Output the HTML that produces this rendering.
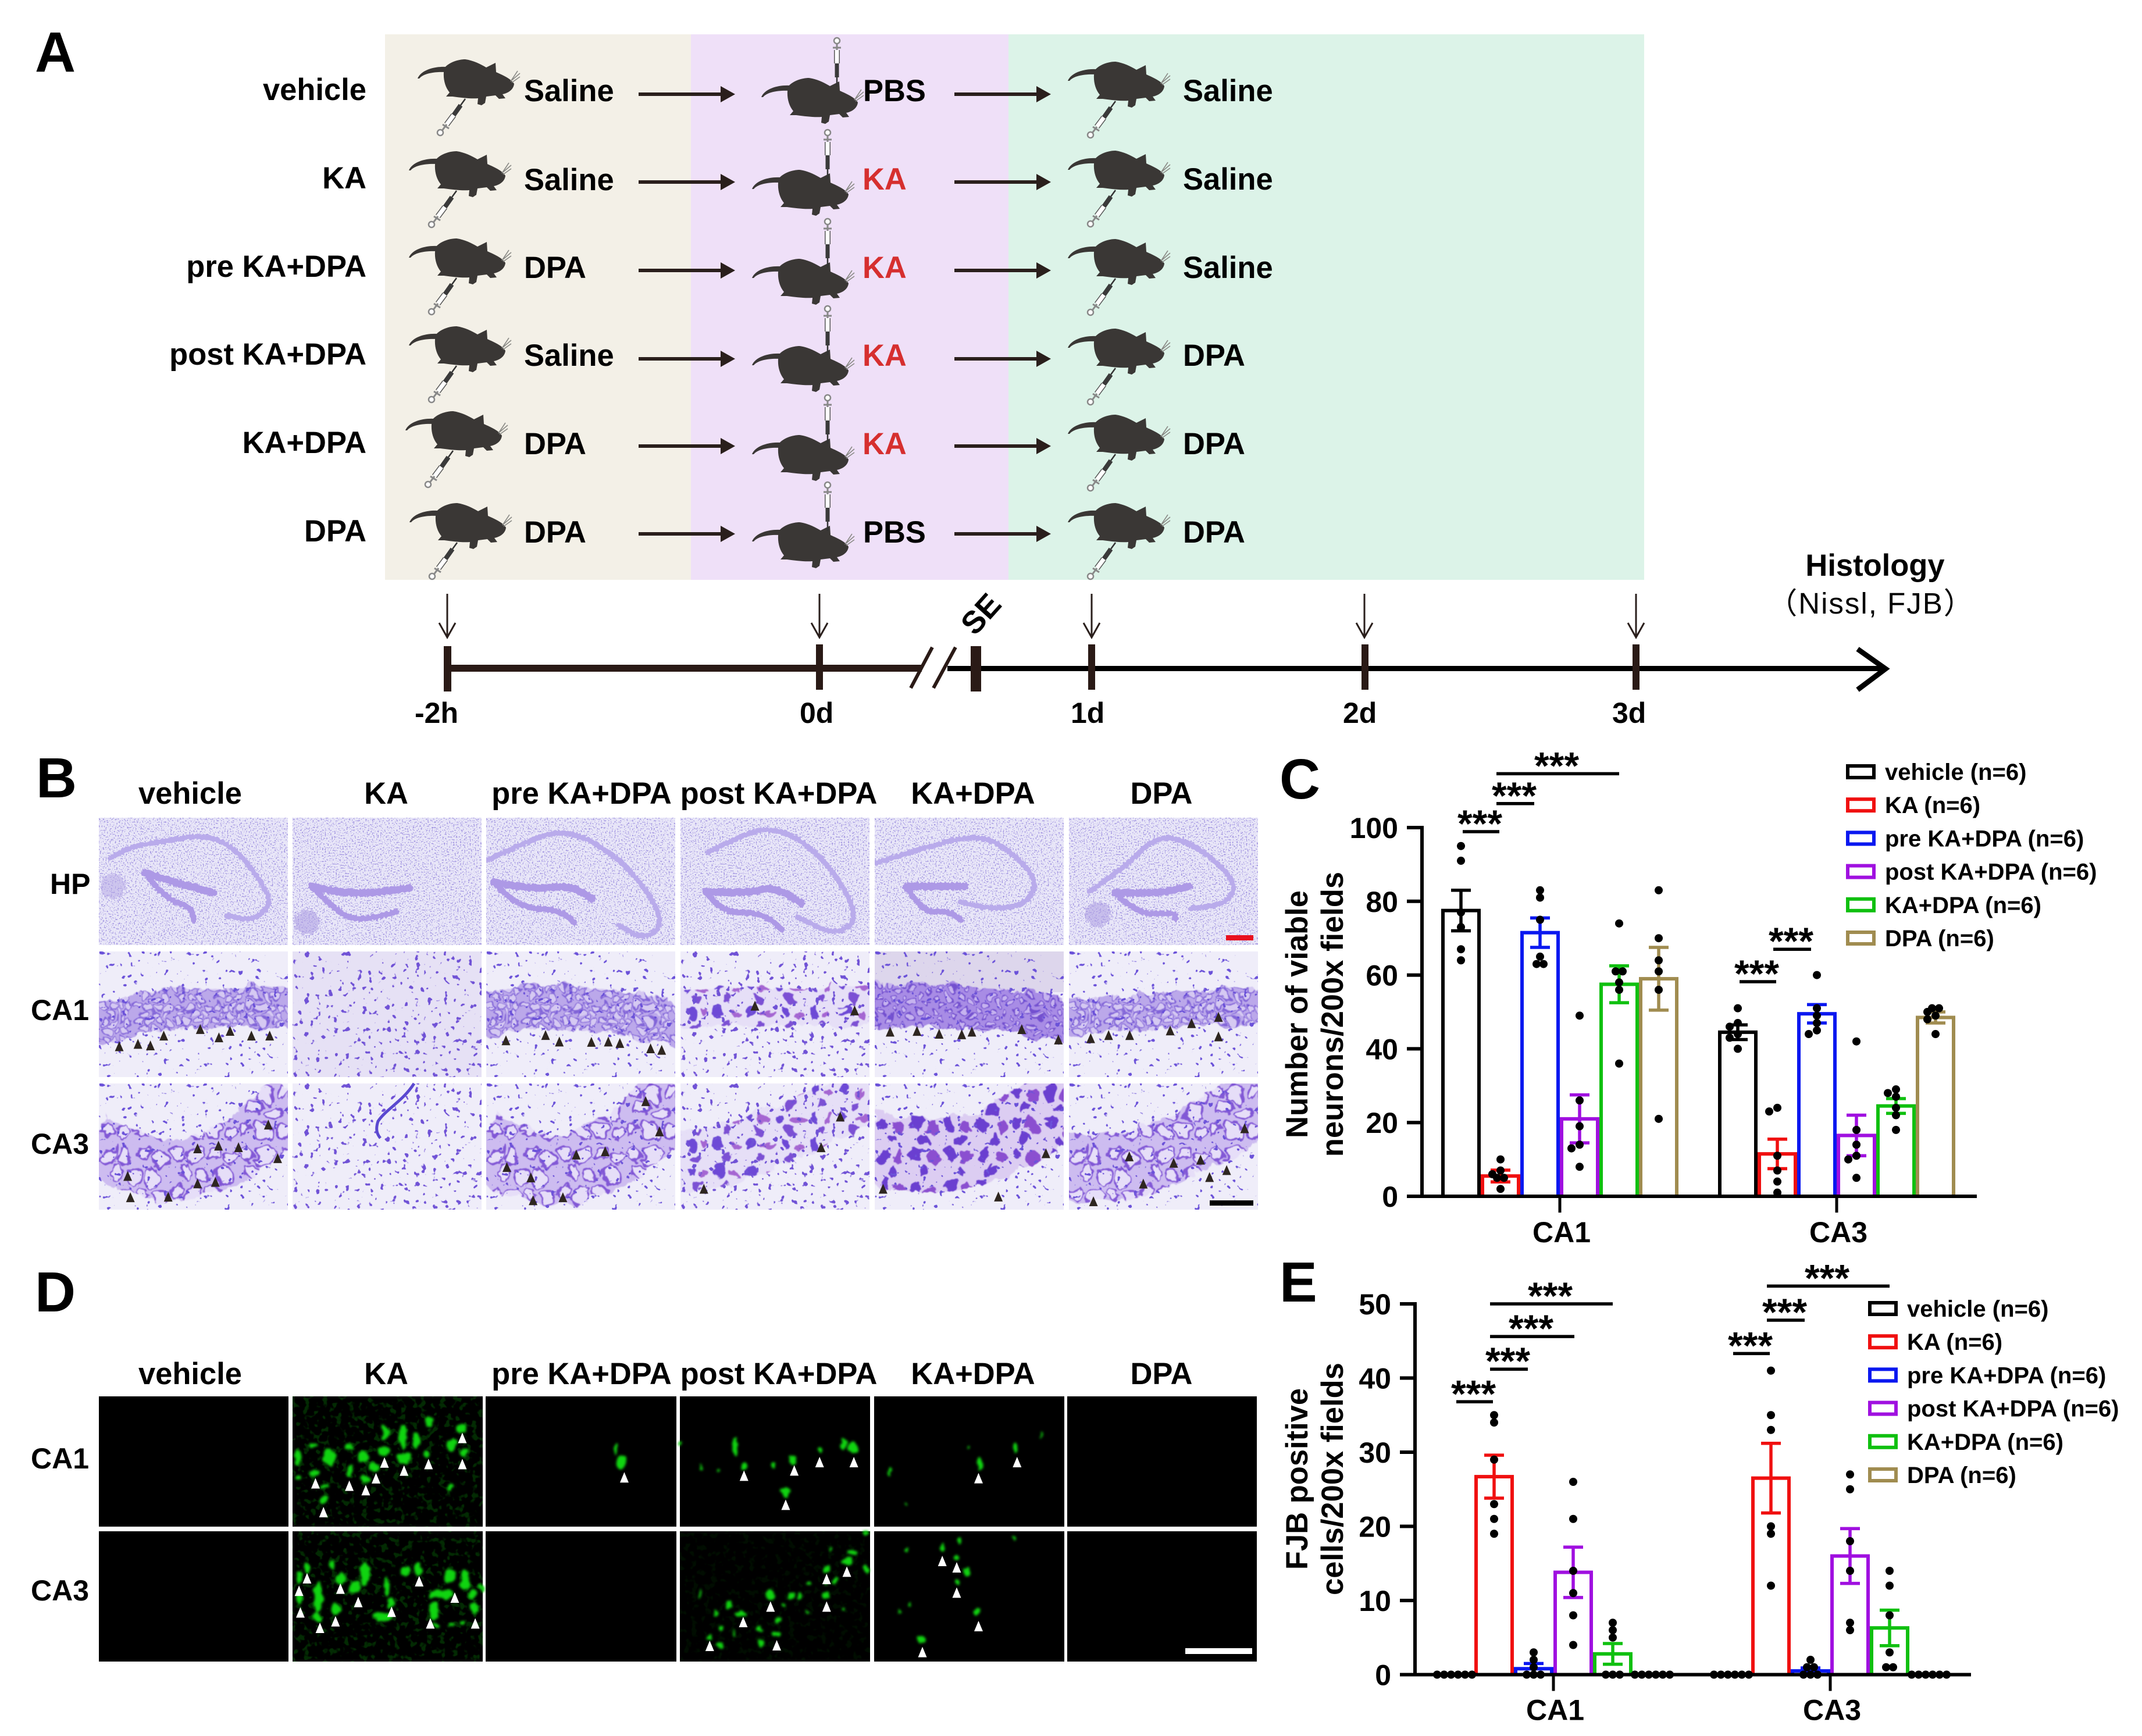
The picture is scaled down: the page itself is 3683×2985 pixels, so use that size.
<!DOCTYPE html>
<html lang="en">
<head>
<meta charset="utf-8">
<title>KA and DPA experimental design, histology and quantification</title>
<style>
html,body{margin:0;padding:0;background:#fff;width:3683px;height:2985px;overflow:hidden}
svg#fig{display:block}
text{font-family:"Liberation Sans","Noto Sans CJK SC",sans-serif;fill:#000}
.b52{font-size:52.5px;font-weight:bold}
.b50{font-size:50px;font-weight:bold}
.let{font-size:97px;font-weight:bold}
.ka{fill:#d62f2f}
</style>
</head>
<body>
<svg id="fig" width="3683" height="2985" viewBox="0 0 3683 2985">
<defs>
  <g id="mouse-body">
    <path fill="#3a3735" d="M46,15 C54,5 70,0 82,0 C96,2 108,8 118,14 L134,6 L135,22 C148,28 160,33 166,42 C165,52 156,58 146,60 L151,67 L140,68 L134,62 L118,64 L116,75 L110,79 L103,77 L104,67 C90,68 76,66 60,64 L49,64 L55,57 C46,46 43,30 46,15 Z"/>
    <path fill="#3a3735" d="M48,13 C30,12 6,18 0,33 L3,33 C10,24 30,21 48,22 Z"/>
    <path fill="none" stroke="#8a8a86" stroke-width="1.6" d="M160,38 L172,20 M162,36 L176,24 M162,40 L176,30"/>
  </g>
  <g id="mouse-side">
    <use href="#mouse-body"/>
    <path fill="none" stroke="#333" stroke-width="2.5" d="M82,68 L74,79"/>
    <path fill="none" stroke="#3a3a3a" stroke-width="8" d="M74,79 L62,96"/>
    <path fill="none" stroke="#555" stroke-width="10" d="M62,96 L50,112"/>
    <path fill="none" stroke="#fff" stroke-width="7" d="M62,96 L50,112"/>
    <path fill="none" stroke="#888" stroke-width="3" d="M50,112 L41,124 M43,112 L54,119"/>
    <circle cx="39" cy="126" r="5" fill="#fff" stroke="#888" stroke-width="2.5"/>
  </g>
  <g id="mouse-injected">
    <use href="#mouse-body"/>
    <path fill="none" stroke="#333" stroke-width="2.5" d="M130,-1 V15"/>
    <path fill="none" stroke="#3a3a3a" stroke-width="7" d="M130,-25 V-1"/>
    <path fill="none" stroke="#555" stroke-width="10" d="M130,-48 V-25"/>
    <path fill="none" stroke="#fff" stroke-width="7" d="M130,-48 V-25"/>
    <path fill="none" stroke="#888" stroke-width="3" d="M130,-60 V-48 M123,-52 H137"/>
    <circle cx="130" cy="-64" r="5" fill="#fff" stroke="#888" stroke-width="2.5"/>
  </g>
  <g id="flow-arrow">
    <rect x="0" y="-3" width="142" height="6" fill="#2a1f1c"/>
    <polygon points="141,-14 166,0 141,14" fill="#2a1f1c"/>
  </g>
  <path id="time-arrow" fill="none" stroke="#2a1f1c" stroke-width="3" d="M0,0 V75 M-14,50 L0,75 L14,50"/>

  <filter id="speck1" x="0" y="0" width="100%" height="100%" color-interpolation-filters="sRGB"><feTurbulence type="fractalNoise" baseFrequency="0.43" numOctaves="2" seed="3"/><feColorMatrix type="matrix" values="0 0 0 0 .63  0 0 0 0 .58  0 0 0 0 .88  7 0 0 0 -3.9"/></filter>
  <filter id="speck2" x="0" y="0" width="100%" height="100%" color-interpolation-filters="sRGB"><feTurbulence type="fractalNoise" baseFrequency="0.43" numOctaves="2" seed="11"/><feColorMatrix type="matrix" values="0 0 0 0 .63  0 0 0 0 .58  0 0 0 0 .88  7 0 0 0 -3.9"/></filter>
  <filter id="cells1" x="0" y="0" width="100%" height="100%" color-interpolation-filters="sRGB"><feTurbulence type="fractalNoise" baseFrequency="0.1" numOctaves="2" seed="5"/><feColorMatrix type="matrix" values="0 0 0 0 .42  0 0 0 0 .32  0 0 0 0 .85  18 0 0 0 -12.3"/></filter>
  <filter id="cells2" x="0" y="0" width="100%" height="100%" color-interpolation-filters="sRGB"><feTurbulence type="fractalNoise" baseFrequency="0.1" numOctaves="2" seed="17"/><feColorMatrix type="matrix" values="0 0 0 0 .44  0 0 0 0 .32  0 0 0 0 .84  18 0 0 0 -11.8"/></filter>
  <filter id="wobble" filterUnits="userSpaceOnUse" x="-40" y="-40" width="420" height="320" color-interpolation-filters="sRGB"><feTurbulence type="fractalNoise" baseFrequency="0.09" numOctaves="2" seed="8" result="n"/><feDisplacementMap in="SourceGraphic" in2="n" scale="13" xChannelSelector="R" yChannelSelector="G" result="a"/><feTurbulence type="fractalNoise" baseFrequency="0.025" numOctaves="2" seed="14" result="m"/><feDisplacementMap in="a" in2="m" scale="28" xChannelSelector="G" yChannelSelector="R"/><feGaussianBlur stdDeviation="0.9"/></filter>
  <filter id="grain" filterUnits="userSpaceOnUse" x="-40" y="-40" width="420" height="320" color-interpolation-filters="sRGB"><feTurbulence type="fractalNoise" baseFrequency="0.25" numOctaves="1" seed="2" result="n"/><feDisplacementMap in="SourceGraphic" in2="n" scale="7" xChannelSelector="R" yChannelSelector="G"/></filter>
  <filter id="green-noise" x="0" y="0" width="100%" height="100%" color-interpolation-filters="sRGB"><feTurbulence type="fractalNoise" baseFrequency="0.09" numOctaves="2" seed="23"/><feColorMatrix type="matrix" values="0 0 0 0 .03  0 0 0 0 .42  0 0 0 0 .03  7 0 0 0 -3.9"/></filter>
  <filter id="soft" filterUnits="userSpaceOnUse" x="490" y="2395" width="1360" height="470" color-interpolation-filters="sRGB"><feTurbulence type="fractalNoise" baseFrequency="0.07" numOctaves="2" seed="4" result="n"/><feDisplacementMap in="SourceGraphic" in2="n" scale="12" xChannelSelector="R" yChannelSelector="G"/><feGaussianBlur stdDeviation="2.2"/></filter>
  <filter id="plexus" filterUnits="userSpaceOnUse" x="150" y="1400" width="1800" height="240" color-interpolation-filters="sRGB"><feTurbulence type="fractalNoise" baseFrequency="0.2" numOctaves="2" seed="6" result="n"/><feDisplacementMap in="SourceGraphic" in2="n" scale="14" xChannelSelector="R" yChannelSelector="G"/></filter>

  <pattern id="ringsS" width="64" height="56" patternUnits="userSpaceOnUse"><rect width="64" height="56" fill="#bba8ea"/><g fill="#d5c9f2" stroke="#8265d8" stroke-width="2"><circle cx="8" cy="7" r="6"/><circle cx="24" cy="9" r="7"/><circle cx="40" cy="6" r="5.5"/><circle cx="55" cy="10" r="7"/><circle cx="15" cy="22" r="7"/><circle cx="32" cy="24" r="6"/><circle cx="48" cy="23" r="7"/><circle cx="7" cy="38" r="6"/><circle cx="23" cy="40" r="7"/><circle cx="40" cy="38" r="6"/><circle cx="56" cy="40" r="6.5"/><circle cx="14" cy="51" r="5"/><circle cx="32" cy="52" r="6"/><circle cx="50" cy="52" r="5.5"/></g></pattern>
  <pattern id="denseS" width="24" height="24" patternUnits="userSpaceOnUse"><rect width="24" height="24" fill="#a88ce5"/><g fill="#c6b3ef" stroke="#7350cf" stroke-width="2"><circle cx="7" cy="7" r="5"/><circle cx="18" cy="17" r="5"/></g></pattern>
  <pattern id="blobsM" width="54" height="46" patternUnits="userSpaceOnUse"><rect width="54" height="46" fill="#e6dff7"/><ellipse cx="14" cy="12" rx="7" ry="10" fill="#6d49d6"/><ellipse cx="40" cy="16" rx="9" ry="6" fill="#a566d2"/><ellipse cx="27" cy="35" rx="8" ry="7" fill="#7c50d4"/></pattern>
  <pattern id="blobsL" width="58" height="54" patternUnits="userSpaceOnUse"><rect width="58" height="54" fill="#dccdf2"/><ellipse cx="14" cy="14" rx="9" ry="13" fill="#6a3fd0"/><ellipse cx="42" cy="20" rx="10" ry="12" fill="#8b4fd0"/><ellipse cx="28" cy="43" rx="9" ry="8" fill="#6a3fd0"/></pattern>
  <pattern id="ringsL" width="120" height="108" patternUnits="userSpaceOnUse"><rect width="120" height="108" fill="#cdbcf0"/><g fill="#e6def8" stroke="#8258d6" stroke-width="3.5"><circle cx="16" cy="14" r="12"/><circle cx="46" cy="18" r="14"/><circle cx="80" cy="12" r="10"/><circle cx="106" cy="22" r="13"/><circle cx="28" cy="44" r="13"/><circle cx="62" cy="50" r="11"/><circle cx="94" cy="52" r="14"/><circle cx="14" cy="78" r="11"/><circle cx="44" cy="84" r="14"/><circle cx="76" cy="80" r="12"/><circle cx="108" cy="84" r="11"/></g></pattern>
</defs>

<!-- PANEL A -->
<g>
  <text class="let" x="60" y="123">A</text>
  <rect x="662" y="59" width="526" height="938" fill="#f3f0e7"/>
  <rect x="1188" y="59" width="546" height="938" fill="#efe0f8"/>
  <rect x="1734" y="59" width="1093" height="938" fill="#dcf3e8"/>

  <g text-anchor="end" class="b52">
    <text x="630" y="172">vehicle</text>
    <text x="630" y="324">KA</text>
    <text x="630" y="476">pre KA+DPA</text>
    <text x="630" y="627">post KA+DPA</text>
    <text x="630" y="779">KA+DPA</text>
    <text x="630" y="931">DPA</text>
  </g>

  <use href="#mouse-side" x="718" y="102"/>
  <use href="#mouse-side" x="703" y="260"/>
  <use href="#mouse-side" x="703" y="410"/>
  <use href="#mouse-side" x="703" y="561"/>
  <use href="#mouse-side" x="697" y="707"/>
  <use href="#mouse-side" x="704" y="865"/>

  <use href="#mouse-injected" x="1309" y="134"/>
  <use href="#mouse-injected" x="1293" y="292"/>
  <use href="#mouse-injected" x="1293" y="445"/>
  <use href="#mouse-injected" x="1293" y="595"/>
  <use href="#mouse-injected" x="1293" y="748"/>
  <use href="#mouse-injected" x="1293" y="898"/>

  <use href="#mouse-side" x="1836" y="106"/>
  <use href="#mouse-side" x="1836" y="259"/>
  <use href="#mouse-side" x="1836" y="411"/>
  <use href="#mouse-side" x="1836" y="565"/>
  <use href="#mouse-side" x="1836" y="713"/>
  <use href="#mouse-side" x="1836" y="865"/>

  <g class="b52">
    <text x="901" y="174">Saline</text>
    <text x="901" y="327">Saline</text>
    <text x="901" y="478">DPA</text>
    <text x="901" y="629">Saline</text>
    <text x="901" y="781">DPA</text>
    <text x="901" y="933">DPA</text>

    <text x="1484" y="174">PBS</text>
    <text class="ka" x="1483" y="326">KA</text>
    <text class="ka" x="1483" y="478">KA</text>
    <text class="ka" x="1483" y="629">KA</text>
    <text class="ka" x="1483" y="781">KA</text>
    <text x="1484" y="933">PBS</text>

    <text x="2034" y="174">Saline</text>
    <text x="2034" y="326">Saline</text>
    <text x="2034" y="478">Saline</text>
    <text x="2034" y="629">DPA</text>
    <text x="2034" y="781">DPA</text>
    <text x="2034" y="933">DPA</text>
  </g>

  <use href="#flow-arrow" x="1098" y="162"/>
  <use href="#flow-arrow" x="1098" y="313"/>
  <use href="#flow-arrow" x="1098" y="465"/>
  <use href="#flow-arrow" x="1098" y="617"/>
  <use href="#flow-arrow" x="1098" y="767"/>
  <use href="#flow-arrow" x="1098" y="918"/>
  <use href="#flow-arrow" x="1641" y="162"/>
  <use href="#flow-arrow" x="1641" y="313"/>
  <use href="#flow-arrow" x="1641" y="465"/>
  <use href="#flow-arrow" x="1641" y="617"/>
  <use href="#flow-arrow" x="1641" y="767"/>
  <use href="#flow-arrow" x="1641" y="918"/>

  <g>
    <rect x="769" y="1143" width="816" height="12" fill="#2a1a16"/>
    <rect x="1629" y="1145" width="1609" height="9" fill="#000"/>
    <polyline points="3194,1116 3242,1150 3194,1186" fill="none" stroke="#000" stroke-width="9"/>
    <path d="M1566,1183 L1603,1113 M1605,1183 L1643,1113" stroke="#2a1a16" stroke-width="6" fill="none"/>
    <rect x="763" y="1111" width="13" height="78" fill="#2a1a16"/>
    <rect x="1403" y="1108" width="12" height="78" fill="#2a1a16"/>
    <rect x="1669" y="1111" width="18" height="78" fill="#2a1a16"/>
    <rect x="1871" y="1108" width="12" height="78" fill="#2a1a16"/>
    <rect x="2341" y="1108" width="12" height="78" fill="#2a1a16"/>
    <rect x="2807" y="1108" width="12" height="78" fill="#2a1a16"/>
    <use href="#time-arrow" x="2346" y="1021"/>
    <use href="#time-arrow" x="769" y="1021"/>
    <use href="#time-arrow" x="1409" y="1021"/>
    <use href="#time-arrow" x="1877" y="1021"/>
    <use href="#time-arrow" x="2813" y="1021"/>
    <g class="b50">
      <text x="713" y="1243">-2h</text>
      <text x="1375" y="1243">0d</text>
      <text x="1841" y="1243">1d</text>
      <text x="2309" y="1243">2d</text>
      <text x="2772" y="1243">3d</text>
      <text x="1687" y="1074" text-anchor="middle" font-size="54" transform="rotate(-48 1687 1056)">SE</text>
    </g>
    <text class="b52" x="3224" y="990" text-anchor="middle">Histology</text>
    <text x="3217" y="1055" text-anchor="middle" font-size="51" letter-spacing="2">（Nissl, FJB）</text>
  </g>
</g>

<!-- PANEL B LABELS -->
<g>
  <text class="let" x="62" y="1371">B</text>
  <g class="b52" text-anchor="middle">
    <text x="327" y="1382">vehicle</text>
    <text x="664" y="1382">KA</text>
    <text x="1000" y="1382">pre KA+DPA</text>
    <text x="1339" y="1382">post KA+DPA</text>
    <text x="1673" y="1382">KA+DPA</text>
    <text x="1997" y="1382">DPA</text>
  </g>
  <g class="b50">
    <text x="86" y="1537">HP</text>
    <text x="53" y="1754">CA1</text>
    <text x="53" y="1984">CA3</text>
  </g>
</g>
<g id="micro-layer"></g>

<!-- PANEL D LABELS -->
<g>
  <text class="let" x="60" y="2255">D</text>
  <g class="b52" text-anchor="middle">
    <text x="327" y="2380">vehicle</text>
    <text x="664" y="2380">KA</text>
    <text x="1000" y="2380">pre KA+DPA</text>
    <text x="1339" y="2380">post KA+DPA</text>
    <text x="1673" y="2380">KA+DPA</text>
    <text x="1997" y="2380">DPA</text>
  </g>
  <g class="b50">
    <text x="53" y="2525">CA1</text>
    <text x="53" y="2752">CA3</text>
  </g>
</g>
<g id="fluoro-layer"></g>

<!-- CHARTS -->
<text class="let" x="2200" y="1373">C</text>
<text class="let" x="2200" y="2238">E</text>
<g id="chart-c">
  <g transform="translate(2248,1744) rotate(-90)"><text class="b52" text-anchor="middle">Number of viable</text></g>
  <g transform="translate(2309,1744) rotate(-90)"><text class="b52" text-anchor="middle">neurons/200x fields</text></g>
</g>
<g id="chart-e">
  <g transform="translate(2248,2543) rotate(-90)"><text class="b52" text-anchor="middle">FJB positive</text></g>
  <g transform="translate(2309,2543) rotate(-90)"><text class="b52" text-anchor="middle">cells/200x fields</text></g>
</g>
</svg>

<script>
/* ---------- chart data ---------- */
const seriesLabels = ['vehicle (n=6)', 'KA (n=6)', 'pre KA+DPA (n=6)', 'post KA+DPA (n=6)', 'KA+DPA (n=6)', 'DPA (n=6)'];
const groupLabels = ['CA1', 'CA3'];

const viableTicks = [0, 20, 40, 60, 80, 100];
const viableMeansCA1 = [77.5, 5.5, 71.5, 21, 57.5, 59];
const viableMeansCA3 = [44.5, 11.5, 49.5, 16.5, 24.5, 48.5];
const viableSemCA1 = [5.5, 1.6, 4, 6.5, 5, 8.5];
const viableSemCA3 = [2, 4, 2.5, 5.5, 2, 1.5];
const viablePointsCA1 = [
  [95, 91, 77, 73, 67, 64],
  [10, 7, 5, 5, 6, 2],
  [83, 81, 75, 65, 63, 63],
  [49, 26, 19, 14, 13, 8],
  [74, 61, 61, 58, 56, 36],
  [83, 70, 64, 61, 56, 21]
];
const viablePointsCA3 = [
  [51, 47, 46, 44, 43, 40],
  [24, 23, 11, 7, 4, 1],
  [60, 51, 49, 47, 45, 44],
  [42, 18, 14, 11, 10, 5],
  [29, 28, 27, 24, 22, 18],
  [51, 51, 50, 49, 48, 44]
];
const viableSigCA1 = [[0, 1, 98.9], [1, 2, 106.5], [1, 4, 114.6]];
const viableSigCA3 = [[0, 1, 58.2], [1, 2, 67]];

const fjbTicks = [0, 10, 20, 30, 40, 50];
const fjbMeansCA1 = [0, 26.7, 0.8, 13.8, 2.8, 0];
const fjbMeansCA3 = [0, 26.5, 0.5, 16, 6.3, 0];
const fjbSemCA1 = [0, 2.9, 0.7, 3.4, 1.4, 0];
const fjbSemCA3 = [0, 4.7, 0.4, 3.7, 2.4, 0];
const fjbPointsCA1 = [
  [0, 0, 0, 0, 0, 0],
  [35, 34, 29, 23, 21, 19],
  [3, 2, 1, 0, 0, 0],
  [26, 21, 14, 11, 8, 4],
  [7, 6, 5, 0, 0, 0],
  [0, 0, 0, 0, 0, 0]
];
const fjbPointsCA3 = [
  [0, 0, 0, 0, 0, 0],
  [41, 35, 33, 20, 19, 12],
  [2, 1, 1, 0, 0, 0],
  [27, 25, 18, 14, 7, 6],
  [14, 12, 8, 3, 1, 1],
  [0, 0, 0, 0, 0, 0]
];
const fjbSigCA1 = [[0, 1, 36.8], [1, 2, 41.2], [1, 3, 45.6], [1, 4, 50]];
const fjbSigCA3 = [[0, 1, 43.3], [1, 2, 47.8], [1, 4, 52.4]];

const seriesColors = ['#000000', '#f01010', '#0a18f0', '#a010e0', '#10c010', '#a08c50'];

/* ---------- helpers ---------- */
const SVGNS = document.getElementById('fig').namespaceURI;
function mk(tag, attrs, parent) {
  const el = document.createElementNS(SVGNS, tag);
  for (const k in attrs) el.setAttribute(k, attrs[k]);
  parent.appendChild(el);
  return el;
}

function swarm(values, yScale) {
  const uniq = [...new Set(values)].sort((a, b) => b - a);
  const placed = [];
  uniq.forEach(v => {
    const n = values.filter(x => x === v).length;
    const y = yScale(v);
    if (n > 1) {
      for (let i = 0; i < n; i++) placed.push({ v: v, dx: (i - (n - 1) / 2) * 12, y: y });
    } else {
      const options = [0, -14, 14, -28, 28, -42, 42];
      const dx = options.find(o => placed.every(p => Math.hypot(p.dx - o, p.y - y) >= 10));
      placed.push({ v: v, dx: dx === undefined ? 0 : dx, y: y });
    }
  });
  return placed;
}

function drawChart(root, key, cfg) {
  const yScale = v => cfg.y0 - (v - 0) * (cfg.y0 - cfg.yTop) / cfg.yMax;
  const barX = (g, i) => cfg.groupX[g] + (i - 2.5) * 68;

  cfg.means.forEach((means, g) => {
    means.forEach((m, i) => {
      const bar = mk('rect', { x: barX(g, i) - 31, y: yScale(m), width: 62, height: cfg.y0 - yScale(m), fill: 'none', stroke: seriesColors[i], 'stroke-width': 6 }, root);
      
      
    });
  });

  const yAxis = mk('line', { x1: cfg.axisX, x2: cfg.axisX, y1: yScale(cfg.yMax) - 3, y2: cfg.y0 + 3, stroke: '#000', 'stroke-width': 6 }, root);
  
  
  const xAxis = mk('line', { x1: cfg.axisX - 26, x2: cfg.axisEnd, y1: cfg.y0, y2: cfg.y0, stroke: '#000', 'stroke-width': 6 }, root);
  
  

  cfg.ticks.forEach(t => {
    const tick = mk('line', { x1: cfg.axisX - 26, x2: cfg.axisX, y1: yScale(t), y2: yScale(t), stroke: '#000', 'stroke-width': 6 }, root);
    
    
    const lab = mk('text', { x: cfg.axisX - 41, y: yScale(t) + 18, 'text-anchor': 'end', 'font-size': 50, 'font-weight': 'bold' }, root);
    lab.textContent = String(t);
    
    
  });

  groupLabels.forEach((name, g) => {
    const tick = mk('line', { x1: cfg.groupX[g], x2: cfg.groupX[g], y1: cfg.y0, y2: cfg.y0 + 28, stroke: '#000', 'stroke-width': 5 }, root);
    
    
    const lab = mk('text', { x: cfg.groupX[g] + 3, y: cfg.y0 + cfg.xLabelDy, 'text-anchor': 'middle', 'font-size': 50, 'font-weight': 'bold' }, root);
    lab.textContent = name;
    
    
  });

  cfg.means.forEach((means, g) => {
    means.forEach((m, i) => {
      const s = cfg.sems[g][i];
      if (s <= 0) return;
      const cx = barX(g, i);
      const err = mk('path', { d: 'M' + cx + ',' + yScale(m + s) + ' V' + yScale(m - s) + ' M' + (cx - 17) + ',' + yScale(m + s) + ' H' + (cx + 17) + ' M' + (cx - 17) + ',' + yScale(m - s) + ' H' + (cx + 17), fill: 'none', stroke: seriesColors[i], 'stroke-width': 5.5 }, root);
      
      
    });
  });

  cfg.points.forEach((seriesPts, g) => {
    seriesPts.forEach((vals, i) => {
      swarm(vals, yScale).forEach(p => {
        const dot = mk('circle', { cx: barX(g, i) + p.dx, cy: p.y, r: 7, fill: '#000' }, root);
        
        
      });
    });
  });

  cfg.sig.forEach((list, g) => {
    list.forEach(br => {
      const a = br[0], b = br[1];
      const x1 = barX(g, a) + (a === 0 ? 3 : -7);
      const x2 = barX(g, b) + (b === 2 ? -10 : b === 1 ? -2 : b === 3 ? 2 : 0);
      const y = yScale(br[2]);
      const ln = mk('line', { x1: x1, x2: x2, y1: y, y2: y, stroke: '#000', 'stroke-width': 5.5 }, root);
      
      
      const st = mk('text', { x: (x1 + x2) / 2 - 2, y: y + 9, 'text-anchor': 'middle', 'font-size': 66, 'font-weight': 'bold' }, root);
      st.textContent = '***';
      
      
    });
  });

  seriesLabels.forEach((name, i) => {
    const ly = cfg.legendY + i * 57.2;
    const sw = mk('rect', { x: cfg.legendX + 3, y: ly - 10, width: 45, height: 20, fill: 'none', stroke: seriesColors[i], 'stroke-width': 6 }, root);
    
    
    const lab = mk('text', { x: cfg.legendX + 67, y: ly + 14, 'font-size': 40, 'font-weight': 'bold' }, root);
    lab.textContent = name;
    
    
  });
}

drawChart(document.getElementById('chart-c'), 'c', {
  y0: 2057, yTop: 1423, yMax: 100, axisX: 2445, axisEnd: 3399, groupX: [2682, 3158], xLabelDy: 79,
  ticks: viableTicks,
  means: [viableMeansCA1, viableMeansCA3], sems: [viableSemCA1, viableSemCA3],
  points: [viablePointsCA1, viablePointsCA3], sig: [viableSigCA1, viableSigCA3],
  legendX: 3174, legendY: 1327
});
drawChart(document.getElementById('chart-e'), 'e', {
  y0: 2879.5, yTop: 2242, yMax: 50, axisX: 2433, axisEnd: 3389, groupX: [2671, 3147], xLabelDy: 78,
  ticks: fjbTicks,
  means: [fjbMeansCA1, fjbMeansCA3], sems: [fjbSemCA1, fjbSemCA3],
  points: [fjbPointsCA1, fjbPointsCA3], sig: [fjbSigCA1, fjbSigCA3],
  legendX: 3212, legendY: 2250
});

/* ---------- Nissl micrographs (illustrative texture) ---------- */
const microCols = [170, 503, 836, 1170, 1504, 1838];
const microColNames = ['vehicle', 'ka', 'pre-ka-dpa', 'post-ka-dpa', 'ka-dpa', 'dpa'];
const microRows = [1406, 1636, 1863];
const microHeights = [219, 216, 217];
const microRowNames = ['hp', 'ca1', 'ca3'];

const hpArcs = [
  [[20,70],[44,52],[121,39],[182,29],[235,52],[281,113],[297,149],[266,177],[220,169]],
  [],
  [[2,73],[67,42],[128,21],[189,42],[258,98],[308,180],[273,210],[227,185]],
  [[47,60],[100,33],[147,17],[201,33],[261,87],[308,171],[268,203],[201,171]],
  [[1,78],[75,55],[162,31],[215,42],[282,105],[262,149],[202,158],[148,145]],
  [[35,127],[95,87],[142,38],[183,33],[236,60],[290,113],[270,149],[210,156]]
];
const hpGyrusUpper = [
  [[79,95],[136,113],[197,129]],
  [[33,118],[94,134],[201,121]],
  [[13,111],[82,124],[143,116],[182,139]],
  [[44,127],[114,131],[161,118],[208,147]],
  [[54,118],[155,118]],
  [[79,129],[149,131],[206,118]]
];
const hpGyrusLower = [
  [[79,95],[113,139],[159,154],[163,175]],
  [[33,118],[78,164],[117,177],[178,162]],
  [[13,111],[51,154],[128,159],[151,180]],
  [[44,127],[67,163],[141,163],[174,192]],
  [[54,118],[81,163],[128,160],[148,176]],
  [[79,129],[116,167],[183,163],[183,174]]
];
const cellBands = {
  '1-0': ['M-10,125 C60,115 100,95 160,98 S260,90 340,100', 70, 'ringsS'],
  '1-2': ['M-10,110 C100,80 200,100 340,128', 78, 'ringsS'],
  '1-3': ['M-10,95 C100,92 200,100 340,92', 66, 'blobsM'],
  '1-4': ['M-10,92 C100,90 200,95 340,122', 76, 'denseS'],
  '1-5': ['M-10,112 C100,110 200,95 340,95', 62, 'ringsS'],
  '2-0': ['M-10,100 C50,130 100,160 160,145 S280,90 340,25', 105, 'ringsL'],
  '2-2': ['M-10,100 C60,140 120,170 200,125 S300,50 330,5', 120, 'ringsL'],
  '2-3': ['M-10,132 C60,130 120,110 180,85 S280,30 330,20', 100, 'blobsM'],
  '2-4': ['M-10,107 C60,125 150,135 220,95 S310,30 340,5', 125, 'blobsL'],
  '2-5': ['M-10,143 C60,150 120,145 200,105 S300,40 340,10', 115, 'ringsL']
};

function smooth(pts) {
  if (!pts.length) return '';
  let d = 'M' + pts[0][0] + ',' + pts[0][1];
  for (let i = 1; i < pts.length - 1; i++) {
    const mx = (pts[i][0] + pts[i + 1][0]) / 2, my = (pts[i][1] + pts[i + 1][1]) / 2;
    d += ' Q' + pts[i][0] + ',' + pts[i][1] + ' ' + mx + ',' + my;
  }
  const last = pts[pts.length - 1];
  return d + ' L' + last[0] + ',' + last[1];
}

const microLayer = document.getElementById('micro-layer');
microRows.forEach((ry, r) => {
  microCols.forEach((cx, c) => {
    const h = microHeights[r];
    const p = mk('svg', { x: cx, y: ry, width: 325, height: h, viewBox: '0 0 325 ' + h }, microLayer);
    
    
    const bg = mk('rect', { width: 325, height: h, fill: r === 0 ? '#e9e7f8' : (c === 1 && r === 1 ? '#e6e1f5' : '#efedf9') }, p);
    
    
    if (r === 1 && c === 4) {
      const topShade = mk('rect', { width: 325, height: 70, fill: '#ddd6ec' }, p);
      
      
    }
    if (r === 0) {
      const sp = mk('rect', { width: 325, height: h, filter: 'url(#speck' + (c % 2 + 1) + ')' }, p);
      
      
      const arc = mk('path', { d: smooth(hpArcs[c]), fill: 'none', stroke: '#b9abeb', 'stroke-width': 9, filter: 'url(#grain)', 'stroke-linecap': 'round' }, p);
      
      
      const up = mk('path', { d: smooth(hpGyrusUpper[c]), fill: 'none', stroke: '#ad99e6', 'stroke-width': 13, filter: 'url(#grain)', 'stroke-linecap': 'round' }, p);
      
      
      const low = mk('path', { d: smooth(hpGyrusLower[c]), fill: 'none', stroke: '#ad99e6', 'stroke-width': 10, filter: 'url(#grain)', 'stroke-linecap': 'round' }, p);
      
      
    } else {
      const band = cellBands[r + '-' + c];
      if (band) {
        const b = mk('path', { d: band[0], fill: 'none', stroke: 'url(#' + band[2] + ')', 'stroke-width': band[1], filter: 'url(#wobble)' }, p);
        
        
      }
      const sc = mk('rect', { width: 325, height: h, filter: 'url(#cells' + (c === 1 || c === 3 ? 2 : 1) + ')' }, p);
      
      
    }
  });
});

const vessel = mk('path', { d: 'M209,-10 C190,20 160,35 147,55 C142,70 146,78 151,84', fill: 'none', stroke: '#5a48d0', 'stroke-width': 5, transform: 'translate(503,1873)' }, microLayer);



const blobLeft = mk('circle', { cx: 195, cy: 1524, r: 22, fill: '#b5a7e6', opacity: 0.5, filter: 'url(#plexus)' }, microLayer);


const blobKa = mk('circle', { cx: 528, cy: 1586, r: 22, fill: '#a998e2', opacity: 0.5, filter: 'url(#plexus)' }, microLayer);


const blobDpa = mk('circle', { cx: 1888, cy: 1572, r: 22, fill: '#a998e2', opacity: 0.5, filter: 'url(#plexus)' }, microLayer);



const z4 = (zx, zy) => [zx / 1.307, 1300 + zy / 1.96];
const z7 = (zx, zy) => [1150 + zx / 1.493, 1390 + zy / 2.24];
const z5 = (zx, zy) => [zx / 1.307, 2150 + zy / 1.96];
const z8 = (zx, zy) => [1150 + zx / 1.493, 2390 + zy / 3];

const nisslMarksLeft = [[268,978],[310,970],[338,975],[368,942],[450,920],[492,948],[517,926],[565,942],[606,942],
  [1137,958],[1226,940],[1257,962],[1329,963],[1367,962],[1393,967],[1462,985],[1487,990],
  [603,1242],[444,1322],[491,1313],[536,1318],[624,1355],[287,1415],[444,1440],[484,1435],[293,1487],[378,1485],
  [1451,1163],[1482,1265],[1295,1343],[1360,1332],[1139,1385],[1193,1420],[1198,1497],[1265,1487]];
const nisslMarksRight = [[221,760],[477,778],[568,860],[637,857],[694,868],[752,870],[778,860],[906,850],[1000,890],
  [1083,885],[1129,873],[1183,873],[1287,855],[1342,827],[1411,803],[1411,878],
  [440,1187],[391,1305],[90,1465],[968,1328],[550,1465],[846,1495],
  [1478,1232],[1182,1340],[1296,1365],[1365,1353],[1432,1393],[1388,1420],[1218,1445],[1090,1513]];

function triangle(pt, fill, parent, w, hh, name) {
  const t = mk('polygon', { points: pt[0] + ',' + (pt[1] - hh) + ' ' + (pt[0] - w) + ',' + (pt[1] + hh) + ' ' + (pt[0] + w) + ',' + (pt[1] + hh), fill: fill }, parent);
  
  
}
nisslMarksLeft.forEach(m => triangle(z4(m[0], m[1]), '#2e2620', microLayer, 7.5, 8.5, 'surviving-neuron-arrowhead'));
nisslMarksRight.forEach(m => triangle(z7(m[0], m[1]), '#2e2620', microLayer, 7.5, 8.5, 'surviving-neuron-arrowhead'));

const redBar = mk('rect', { x: 2108, y: 1608, width: 47, height: 9, fill: '#e8101e' }, microLayer);


const blackBar = mk('rect', { x: 2080, y: 2064, width: 75, height: 9, fill: '#000' }, microLayer);



/* ---------- FJB fluorescence panels (illustrative) ---------- */
const fluoroCols = [[170, 326], [503, 327], [835, 328], [1169, 327], [1503, 327], [1835, 326]];
const fluoroRows = [2401, 2633];
const fluoroRowNames = ['ca1', 'ca3'];
const fluoroLayer = document.getElementById('fluoro-layer');
fluoroRows.forEach((fy, r) => {
  fluoroCols.forEach((col, c) => {
    const s = mk('rect', { x: col[0], y: fy, width: col[1], height: 224, fill: '#000' }, fluoroLayer);
    
    
    if (c === 1 || (c === 3 && r === 1)) {
      const n = mk('rect', { x: col[0], y: fy, width: col[1], height: 224, filter: 'url(#green-noise)', opacity: c === 1 ? 0.4 : 0.12 }, fluoroLayer);
      
      
    }
  });
});

const greenLeft = [[708,750,10,10],[730,793,11,10],[729,840,12,14],[672,765,8,7],[668,700,8,25],[740,700,14,30],[788,745,8,18],[820,772,13,14],[840,730,11,16],[862,680,14,14],[865,615,8,25],[908,700,16,20],[905,625,10,40],[935,640,10,25],[818,695,12,18],[960,685,8,15],[965,580,10,18],[1036,597,12,15],[1042,682,8,14],[1015,655,10,20],[705,655,10,8],[785,662,10,8],[1012,795,6,10],
  [1397,715,8,22],[1385,670,4,20],
  [690,1072,8,18],[673,1105,9,22],[673,1175,8,18],[715,1170,10,50],[715,1235,10,16],[755,1210,11,20],[748,1060,7,16],[765,1105,12,20],[798,1135,12,20],[820,1090,10,40],[868,1135,6,30],[878,1185,7,18],[860,1235,22,14],[912,1085,10,14],[940,1075,9,20],[975,1215,12,30],[990,1160,28,16],[1010,1095,14,22],[1045,1110,10,35],[1062,1160,9,15],[1067,1205,9,18],[1082,1140,6,14],[980,1265,8,6],[1015,1265,6,6],[1040,1255,6,8]];
const greenRight = [[194,395,11,20],[318,360,10,24],[298,525,10,26],[387,310,6,18],[448,280,8,25],[472,297,12,32],[170,300,6,50],[80,400,4,16],[127,420,4,10],[268,388,4,16],[30,270,4,12],
  [797,380,5,35],[890,297,6,32],[955,233,3,18],[770,293,3,10],[567,423,3,16],[608,590,3,10],
  [505,742,8,12],[473,840,14,16],[459,884,13,15],[405,925,9,18],[507,925,6,30],[430,980,6,16],[360,1005,7,8],[400,1000,5,12],[402,1062,10,18],[260,1057,10,24],[315,1060,8,20],[335,1063,4,20],[154,1108,8,26],[185,1152,16,10],[122,1150,7,10],[282,1185,8,18],[133,1233,8,18],[232,1230,8,14],[276,1260,10,13],[104,1274,6,9],[132,1318,8,10],[237,1304,8,20],[166,1255,3,18],[357,1142,6,7],[450,1136,4,8],[295,1108,5,12],[80,1050,3,30],[415,825,5,8],
  [885,763,4,10],[703,812,4,22],[747,778,4,18],[613,825,4,8],[741,860,8,15],[764,940,10,20],[741,990,6,17],[791,1147,8,18],[646,1287,10,20],[622,1110,3,16],[592,1147,3,10]];

const greenGroup = mk('g', { filter: 'url(#soft)', fill: '#10d410' }, fluoroLayer);


greenLeft.forEach(b => {
  const p = z5(b[0], b[1]);
  const e = mk('ellipse', { cx: p[0], cy: p[1], rx: b[2] / 1.307, ry: b[3] / 1.96 }, greenGroup);
  
  
});
greenRight.forEach(b => {
  const p = z8(b[0], b[1]);
  const e = mk('ellipse', { cx: p[0], cy: p[1], rx: b[2] / 1.493, ry: b[3] / 3 }, greenGroup);
  
  
});

const whiteMarksLeft = [[709,785],[727,882],[785,793],[822,808],[845,768],[864,715],[908,742],[963,720],[1039,632],[1039,720],[1403,765],
  [690,1105],[672,1147],[675,1220],[719,1272],[754,1250],[765,1140],[805,1185],[880,1218],[942,1115],[967,1257],[1022,1170],[1068,1257]];
const whiteMarksRight = [[193,442],[322,415],[387,372],[475,372],[300,592],[795,455],[894,372],
  [457,937],[405,975],[405,1117],[261,1117],[191,1197],[105,1320],[277,1317],
  [702,882],[739,915],[739,1045],[795,1218],[651,1352]];
whiteMarksLeft.forEach(m => triangle(z5(m[0], m[1]), '#fff', fluoroLayer, 7.5, 9, 'fjb-cell-arrowhead'));
whiteMarksRight.forEach(m => triangle(z8(m[0], m[1]), '#fff', fluoroLayer, 7.5, 9, 'fjb-cell-arrowhead'));

const whiteBar = mk('rect', { x: 2038, y: 2834, width: 115, height: 10, fill: '#fff' }, fluoroLayer);


</script>
</body>
</html>
